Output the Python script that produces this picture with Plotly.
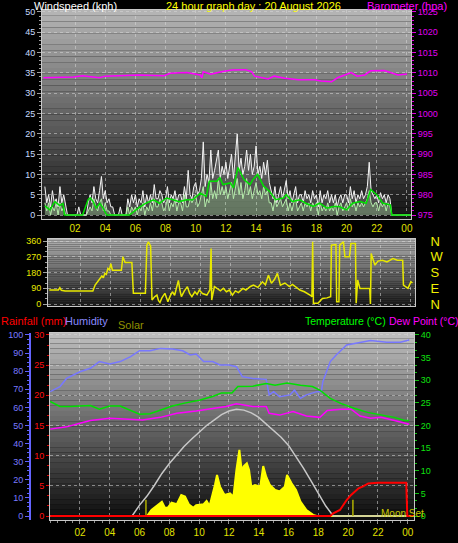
import plotly.graph_objects as go

W, H = 458, 543

# ---------------- data ----------------
# top chart: wind (kph) on an eighth-of-an-hour grid, barometer (hPa)
wind_hours = [i * 0.125 for i in range(195)]
gust = [7, 3, 5, 2, 6, 3, 4, 2,   7, 3, 5, 2, 0, 0, 0, 0,   0, 0, 2, 0, 0, 0, 0, 3,
        5, 3, 7, 4, 3, 6, 9.5, 4,   6, 3, 4, 2, 2, 0, 0, 0,   2, 0, 0, 0, 4, 2, 5, 3,
        5, 2, 4, 3, 6, 2, 5, 3,   5, 3, 7.5, 4, 4, 6, 5, 3,   4, 7, 3, 5, 4, 6, 3, 5,
        5, 3, 7, 4, 11, 5, 4, 7,   8, 5, 6, 9, 18, 7, 10, 8,   16, 9, 11, 14, 16, 9, 12, 10,
        13, 9, 12, 15, 9, 14, 20, 11,   14, 10, 12, 16, 11, 15, 10, 12,   17, 10, 12, 9, 13, 10, 13.5, 8,
        6, 4, 7, 3, 5, 7, 4, 6,   8.5, 4, 6, 3, 5, 7, 3, 5,   5, 3, 6, 4, 5, 3, 6, 4,
        5, 2, 6, 3, 5, 4, 6, 3,   5, 3, 5, 2, 4, 5, 3, 5,   5, 3, 7, 4, 6, 3, 5, 4,
        6, 4, 5, 7, 13, 6, 5, 4,   5, 3, 5.5, 4, 5, 3, 5, 4,   0, 0, 0, 0, 0, 0, 0, 0,
        0, 0, 0]
speed = [3, 1, 3, 0, 2, 1, 3, 0,   3, 1, 2, 0, 0, 0, 0, 0,   0, 0, 0, 0, 0, 0, 0, 1,
         2, 1, 4, 2, 1, 3, 4, 1,   3, 1, 1, 0, 0, 0, 0, 0,   0, 0, 0, 0, 2, 0, 2, 1,
         2, 0, 2, 1, 3, 0, 2, 1,   3, 1, 4, 2, 2, 4, 3, 1,   2, 4, 1, 3, 2, 4, 1, 3,
         3, 1, 5, 2, 2, 4, 3, 4,   5, 2, 3, 5, 7, 2, 4, 3,   8, 4, 6, 4, 9, 5, 7, 5,
         7, 4, 6, 8, 4, 7, 9, 5,   8, 4, 6, 9, 5, 7, 4, 6,   8, 5, 6, 4, 7, 5, 6, 3,
         3, 1, 4, 2, 3, 4, 2, 3,   4, 1, 3, 1, 3, 4, 1, 2,   3, 1, 3, 2, 3, 1, 3, 2,
         3, 0, 3, 1, 2, 1, 3, 1,   2, 1, 3, 0, 2, 3, 1, 2,   3, 1, 4, 2, 3, 1, 3, 2,
         3, 2, 3, 4, 6, 3, 2, 3,   3, 1, 3, 2, 3, 1, 3, 2,   0, 0, 0, 0, 0, 0, 0, 0,
         0, 0, 0]
avg_hours = [0, 0.33, 0.66, 0.99, 1.2, 1.3, 2.5, 2.87, 3.0, 3.2, 3.4, 3.64, 3.86, 4.1,
             5.6, 5.85, 6.3, 6.7, 7.2, 7.6, 8.06, 8.5, 8.9, 9.4, 9.8, 10.3, 10.7, 10.9,
             11.4, 11.6, 11.8, 12.3, 12.5, 12.8, 13.0, 13.2, 13.6, 13.8, 14.1, 14.5, 14.9,
             15.3, 15.8, 16.0, 16.4, 16.9, 17.3, 17.8, 18.2, 18.7, 19.1, 19.5, 20.0, 20.4,
             20.9, 21.3, 21.6, 22.0, 22.4, 22.9, 23.0, 24.25]
avg_speed = [2.25, 1.25, 3.3, 2.3, 2.8, 0, 0, 3.75, 4.2, 3.3, 1.7, 2.9, 1.7, 0,
             0, 0.8, 2, 2.9, 3.75, 2.9, 4.2, 3.75, 3.3, 3.75, 3.75, 5.4, 4.6, 8.3,
             8.3, 9.2, 7.5, 7.9, 6.7, 11.7, 10.4, 8.75, 7.5, 8.75, 10, 7.1, 5.8,
             3.75, 4.2, 5, 3.3, 3.75, 2.9, 2.1, 2.9, 1.7, 2.1, 2.1, 1.25, 2.9,
             3.3, 2.9, 6.25, 5, 2.9, 2.5, 0, 0]
baro_hours = [-0.1, 1.9, 2.5, 3.6, 4.0, 6.2, 7.9, 8.3, 9.4, 10.3, 10.4, 10.5, 11.0, 11.7,
              12.4, 13.3, 13.7, 13.9, 14.8, 15.2, 15.9, 16.8, 17.9, 18.3, 19.0, 19.4,
              20.3, 20.7, 21.2, 21.6, 22.5, 23.4, 24.0]
baro = [1008.8, 1009.0, 1009.3, 1008.8, 1009.2, 1009.5, 1009.3, 1009.9, 1010.1, 1009.5,
        1008.8, 1010.3, 1009.7, 1010.3, 1010.7, 1010.8, 1010.3, 1009.2, 1008.5, 1009.2,
        1008.7, 1008.3, 1008.3, 1008.0, 1007.8, 1008.8, 1010.1, 1009.2, 1009.5, 1010.5,
        1010.6, 1009.5, 1009.7]

# middle chart: wind direction (degrees)
dir_hours = [-0.1, 0.5, 0.6, 0.7, 0.95, 2.8, 2.95, 3.1, 3.2, 3.3, 3.4, 3.5, 3.6, 3.7, 3.8,
             3.9, 4.0, 4.1, 4.7, 4.8, 4.95, 5.4, 5.5, 6.3, 6.4, 6.5, 6.65, 6.74, 6.9, 7.07,
             7.17, 7.27, 7.4, 7.6, 7.7, 7.8, 7.95, 8.1, 8.25, 8.4, 8.5, 8.6, 8.7, 8.9, 9.1,
             9.25, 9.4, 9.6, 9.75, 9.9, 10.1, 10.4, 10.6, 10.68, 10.72, 10.9, 11.1, 11.3,
             11.5, 11.7, 11.9, 12.1, 12.3, 12.5, 12.8, 13.0, 13.3, 13.5, 13.8, 14.1, 14.3,
             14.5, 14.7, 14.9, 15.1, 15.3, 15.6, 15.9, 16.1, 16.4, 16.6, 16.9, 17.1, 17.3,
             17.4, 17.45, 17.5, 17.8, 18.1, 18.4, 18.65, 18.7, 19.0, 19.05, 19.2, 19.25,
             19.5, 19.6, 19.9, 20.0, 20.3, 20.35, 20.45, 20.6, 21.25, 21.3, 21.35, 21.6,
             21.8, 22.1, 22.4, 22.8, 23.1, 23.45, 23.5, 23.8, 24.0, 24.1]
wind_dir = [80, 80, 93, 78, 74, 74, 108, 125, 140, 146, 160, 150, 175, 170, 203,
            195, 231, 193, 193, 270, 237, 237, 61, 61, 336, 355, 330, 23, 40, 51,
            20, 9, 35, 61, 30, 13, 45, 70, 50, 110, 135, 80, 42, 75, 99,
            60, 42, 70, 55, 80, 60, 51, 80, 317, 23, 100, 89, 75,
            90, 70, 80, 51, 75, 65, 89, 80, 100, 108, 95, 127, 110,
            165, 118, 140, 175, 108, 120, 100, 112, 95, 80, 70, 61, 50,
            42, 355, 4, 4, 32, 35, 42, 336, 340, 13, 13, 336,
            355, 270, 270, 345, 345, 4, 137, 89, 89, 0, 288, 222,
            245, 250, 240, 260, 250, 250, 108, 89, 127, 120]
compass_deg = [0, 90, 180, 270, 360]
compass_pts = ["N", "E", "S", "W", "N"]

# bottom chart
hum_hours = [0, 0.66, 1.1, 2.0, 2.7, 3.3, 4.0, 4.7, 5.4, 6.0, 6.7, 7.4, 8.2, 8.9, 9.4, 9.8,
             10.3, 10.9, 11.4, 12.0, 12.5, 12.9, 13.6, 14.5, 14.7, 15.0, 15.4, 16.1, 16.4,
             16.8, 17.2, 17.9, 18.2, 18.3, 18.8, 19.2, 19.9, 20.6, 21.5, 22.6, 23.5, 24.1]
humidity = [68.7, 71.5, 76, 79.7, 81.6, 85.3, 84, 85.3, 88, 91.3, 91.3, 92.6, 92.2, 91.3,
            89, 89.5, 85.3, 85.3, 83.4, 83.4, 82.5, 77, 76, 75.5, 66.9, 68.7, 65.9, 66.9,
            69.6, 65, 66.9, 68.7, 68.7, 74.2, 85.3, 89, 94.5, 95.4, 96.9, 96, 96, 97.2]
temp_hours = [0, 0.66, 1.3, 2.0, 2.7, 3.3, 4.0, 4.7, 5.4, 6.0, 6.7, 7.4, 8.2, 9.1, 10.0, 10.9,
              11.5, 12.2, 12.6, 13.6, 14.5, 15.1, 15.9, 16.8, 17.6, 18.1, 18.8, 19.5, 20.4,
              21.3, 22.2, 23.1, 23.8, 24.1]
temperature = [25.3, 24.2, 24.2, 24.3, 24.4, 23.6, 24.3, 24.3, 23.4, 22.5, 22.6, 23.4, 24.3,
               25.0, 25.6, 26.4, 27.2, 27.2, 28.6, 28.7, 29.3, 28.9, 29.4, 28.9, 28.6, 27.8,
               26.0, 24.9, 23.8, 22.9, 22.3, 21.8, 21.1, 21.1]
dew_hours = [0, 1.1, 2.0, 2.7, 4.0, 5.4, 6.2, 7.4, 8.5, 9.8, 10.9, 11.8, 12.5, 13.6, 14.5,
             14.7, 15.4, 16.3, 17.2, 18.1, 18.6, 19.5, 20.2, 20.8, 21.5, 22.2, 23.1, 24.1]
dew_point = [19.2, 19.7, 20.5, 21.1, 21.6, 21.4, 21.2, 21.8, 22.7, 23.2, 23.8, 24.2, 24.8,
             24.2, 24.2, 22.7, 22.3, 23.1, 22.1, 21.8, 23.3, 23.6, 23.6, 22.1, 21.6, 21.8,
             21.1, 20.3]
solar_hours = [0, 6.5, 6.8, 7.1, 7.5, 7.7, 7.9, 8.15, 8.5, 8.8, 9.05, 9.3, 9.6, 9.8, 10.3,
               10.5, 10.7, 11.06, 11.2, 11.4, 11.7, 12.07, 12.3, 12.5, 12.7, 12.85, 13.0,
               13.2, 13.35, 13.5, 13.75, 14.1, 14.3, 14.5, 14.75, 15.1, 15.4, 15.75, 15.9,
               16.2, 16.5, 16.8, 17.2, 17.65, 17.9, 24.4]
solar = [0, 0, 33, 55, 79, 46, 46, 74, 65, 116, 107, 65, 46, 59, 65, 83, 55, 171, 227, 162,
         116, 125, 107, 254, 365, 254, 276, 291, 254, 162, 171, 162, 276, 217, 171, 144,
         135, 162, 227, 181, 144, 79, 33, 6, 0, 0]
solar_max_hours = [0, 5.5, 6, 6.5, 7, 7.5, 8, 8.5, 9, 9.5, 10, 10.5, 11, 11.5, 12, 12.5, 13,
                   13.5, 14, 14.5, 15, 15.5, 16, 16.5, 17, 17.5, 18, 18.5, 19, 24.4]
solar_max = [0, 0, 60, 110, 170, 235, 290, 340, 385, 425, 465, 500, 530, 560, 580, 590, 585,
             570, 545, 510, 475, 435, 390, 330, 265, 195, 125, 55, 0, 0]
rain_hours = [0, 18.8, 19.0, 19.45, 19.9, 20.2, 20.7, 21.0, 21.35, 22.0, 23.9, 23.97, 24.4]
rainfall = [0, 0, 0.45, 1.0, 2.65, 3.5, 4.6, 4.9, 5.4, 5.5, 5.5, 0, 0]
sun_mark_hours = [6.43, 20.32]
sun_mark_height = 90

hour_ticks = [2, 4, 6, 8, 10, 12, 14, 16, 18, 20, 22, 24]
hour_labels = ["02", "04", "06", "08", "10", "12", "14", "16", "18", "20", "22", "00"]

# ---------------- helpers ----------------
FONT = "Liberation Sans"


def fx(px):
    return px / W


def fy(py):
    return 1 - py / H


fig = go.Figure()

# top chart traces
fig.add_trace(go.Scatter(x=wind_hours, y=gust, mode="lines", fill="tozeroy",
                         fillcolor="rgba(235,235,235,0.22)", line=dict(color="#f4f4f4", width=1),
                         xaxis="x", yaxis="y"))
fig.add_trace(go.Scatter(x=wind_hours, y=speed, mode="lines", fill="tozeroy",
                         fillcolor="rgba(170,230,160,0.30)", line=dict(color="#b4ecaa", width=1),
                         xaxis="x", yaxis="y"))
fig.add_trace(go.Scatter(x=avg_hours, y=avg_speed, mode="lines", line=dict(color="#00e000", width=1.5),
                         xaxis="x", yaxis="y"))
fig.add_trace(go.Scatter(x=baro_hours, y=baro, mode="lines", line=dict(color="#ff00ff", width=1.5),
                         xaxis="x", yaxis="y2"))

# middle chart
fig.add_trace(go.Scatter(x=dir_hours, y=wind_dir, mode="lines", line=dict(color="#e8e800", width=1.5),
                         xaxis="x2", yaxis="y3"))
# invisible companion trace so the compass-point axis is drawn
fig.add_trace(go.Scatter(x=dir_hours, y=wind_dir, mode="lines", opacity=0, hoverinfo="skip",
                         line=dict(width=0), xaxis="x2", yaxis="y4"))

# bottom chart
fig.add_trace(go.Scatter(x=solar_hours, y=solar, mode="lines", fill="tozeroy", fillcolor="#ffff00",
                         line=dict(color="#ffff00", width=2), xaxis="x3", yaxis="y5"))
fig.add_trace(go.Scatter(x=solar_max_hours, y=solar_max, mode="lines", line=dict(color="#c8c8c8", width=1.5),
                         xaxis="x3", yaxis="y5"))
sx, sy = [], []
for h in sun_mark_hours:
    sx += [h, h, None]
    sy += [0, sun_mark_height, None]
fig.add_trace(go.Scatter(x=sx, y=sy, mode="lines", line=dict(color="#b0b000", width=1.5),
                         xaxis="x3", yaxis="y5"))
fig.add_trace(go.Scatter(x=hum_hours, y=humidity, mode="lines", line=dict(color="#7878ff", width=1.5),
                         xaxis="x3", yaxis="y6"))
fig.add_trace(go.Scatter(x=rain_hours, y=rainfall, mode="lines", line=dict(color="#ff0000", width=2),
                         xaxis="x3", yaxis="y7"))
fig.add_trace(go.Scatter(x=temp_hours, y=temperature, mode="lines", line=dict(color="#00e000", width=1.5),
                         xaxis="x3", yaxis="y8"))
fig.add_trace(go.Scatter(x=dew_hours, y=dew_point, mode="lines", line=dict(color="#ff00ff", width=1.5),
                         xaxis="x3", yaxis="y8"))

# ---------------- background gradients ----------------
shapes = []


def gradient(xref, yref, top, bot, n=36):
    for i in range(n):
        t = (i + 0.5) / n
        c = int(round(bot + (top - bot) * t))
        shapes.append(dict(type="rect", xref=xref, yref=yref, x0=0, x1=1, y0=i / n, y1=(i + 1) / n,
                           fillcolor=f"rgb({c},{c},{c})", line=dict(width=0), layer="below"))


gradient("x domain", "y domain", 182, 18)
gradient("x2 domain", "y3 domain", 176, 26)
gradient("x3 domain", "y5 domain", 190, 12)

grid = dict(showgrid=True, gridcolor="rgba(215,215,215,0.55)", griddash="dot", gridwidth=1)
border = dict(showline=True, linecolor="#c8c8c8", linewidth=1, mirror=True, zeroline=False)
NA = dict(automargin=False)

top_dom = [fy(219), fy(10)]
mid_dom = [fy(306), fy(239)]
bot_dom = [fy(520), fy(333)]

layout = dict(
    width=W, height=H, margin=dict(l=0, r=0, t=0, b=0, autoexpand=False),
    paper_bgcolor="#000000", plot_bgcolor="#000000", showlegend=False,
    font=dict(family=FONT, size=10, color="#ffffff"),
    shapes=shapes,
    # top chart
    xaxis=dict(domain=[fx(42), fx(411)], range=[-0.19, 24.27], anchor="y",
               tickvals=hour_ticks, ticktext=hour_labels, ticks="", tickfont=dict(size=10, color="#e0e000"),
               **grid, **border, **NA),
    yaxis=dict(domain=top_dom, range=[-0.985, 50.49], anchor="x", tickvals=list(range(0, 51, 5)),
               tickfont=dict(size=9, color="#c8dcff"), ticks="outside", ticklen=4, tickcolor="#a0a0a0",
               minor=dict(dtick=1, ticks="outside", ticklen=2, tickcolor="#a0a0a0"),
               **grid, **border, **NA),
    yaxis2=dict(overlaying="y", side="right", anchor="x", range=[974.015, 1025.49],
                tickvals=list(range(975, 1026, 5)), tickfont=dict(size=9, color="#e000f0"),
                ticks="outside", ticklen=4, tickcolor="#e000e0",
                minor=dict(dtick=1, ticks="outside", ticklen=2, tickcolor="#e000e0"),
                showgrid=False, zeroline=False, showline=False, **NA),
    # middle chart
    xaxis2=dict(domain=[fx(48), fx(415)], range=[-0.19, 24.27], anchor="y3", tickvals=hour_ticks,
                showticklabels=False, ticks="", **grid, **border, **NA),
    yaxis3=dict(domain=mid_dom, range=[-11.4, 371.4], anchor="x2", tickvals=compass_deg,
                tickfont=dict(size=9, color="#e8e800"), ticks="outside", ticklen=4, tickcolor="#a0a0a0",
                minor=dict(dtick=30, ticks="outside", ticklen=2, tickcolor="#a0a0a0"),
                **grid, **border, **NA),
    yaxis4=dict(overlaying="y3", side="right", anchor="x2", range=[-11.4, 371.4],
                tickvals=compass_deg, ticktext=compass_pts,
                tickfont=dict(size=13, color="#f0f000"), ticks="outside", ticklen=12,
                tickcolor="rgba(0,0,0,0)", showgrid=False, zeroline=False, showline=False, **NA),
    # bottom chart
    xaxis3=dict(domain=[fx(50), fx(414)], range=[-0.01, 24.42], anchor="y5", tickvals=hour_ticks,
                ticktext=hour_labels, ticks="outside", ticklen=3, tickcolor="#909090",
                minor=dict(dtick=0.5, ticks="outside", ticklen=2, tickcolor="#909090"),
                tickfont=dict(size=10, color="#e0e000"), **grid, **border, **NA),
    yaxis5=dict(domain=bot_dom, range=[-22.1, 1011], anchor="x3", showticklabels=False, ticks="",
                tickvals=[], showgrid=False, showline=True, linecolor="#c8c8c8", mirror=True,
                zeroline=False, **NA),
    yaxis6=dict(overlaying="y5", anchor="free", position=fx(30), side="left", range=[-2.21, 101.1],
                tickvals=list(range(0, 101, 10)), tickfont=dict(size=9, color="#7a7aff"),
                ticks="outside", ticklen=4, tickcolor="#6060ff",
                minor=dict(dtick=2.5, ticks="outside", ticklen=2, tickcolor="#6060ff"),
                showline=True, linecolor="#6464ff", linewidth=2, showgrid=False, zeroline=False, **NA),
    yaxis7=dict(overlaying="y5", anchor="x3", side="left", range=[-0.663, 30.33],
                tickvals=list(range(0, 31, 5)), tickfont=dict(size=9, color="#ff1010"),
                ticks="outside", ticklen=3, tickcolor="#e00000",
                minor=dict(dtick=5 / 3, ticks="outside", ticklen=2, tickcolor="#e00000"),
                showline=False, zeroline=False, **grid, **NA),
    yaxis8=dict(overlaying="y5", anchor="x3", side="right", range=[-0.88, 40.44],
                tickvals=list(range(0, 41, 5)), tickfont=dict(size=9, color="#10e010"),
                ticks="outside", ticklen=4, tickcolor="#10c010",
                minor=dict(dtick=5 / 3, ticks="outside", ticklen=2, tickcolor="#10c010"),
                showline=False, showgrid=False, zeroline=False, **NA),
)

ann = []


def label(text, px, py, color, size=11, anchor="left"):
    ann.append(dict(text=text, x=fx(px), y=fy(py), xref="paper", yref="paper", showarrow=False,
                    xanchor=anchor, yanchor="middle", borderpad=0,
                    font=dict(family=FONT, size=size, color=color)))


label("Windspeed (kph)", 33, 6, "#ffffff")
label("24 hour graph day : 20 August 2026", 254, 6, "#ffff00", anchor="center")
label("Barometer (hpa)", 366, 6, "#ff00ff")
label("Rainfall (mm)", 0, 321, "#ff0000")
label("Humidity", 64, 321, "#8888ff")
label("Solar", 117, 325, "#909000")
label("Temperature (°C)", 387, 321, "#00ff00", size=10.5, anchor="right")
label("Dew Point (°C)", 388, 321, "#ff00ff", size=10.5)
label("Moon Set", 380, 513, "#c8c800", size=10)
layout["annotations"] = ann

fig.update_layout(**layout)
fig.write_html("out.html", config={"displayModeBar": False},
               post_script="document.body.style.margin='0px';document.body.style.padding='0px';")
